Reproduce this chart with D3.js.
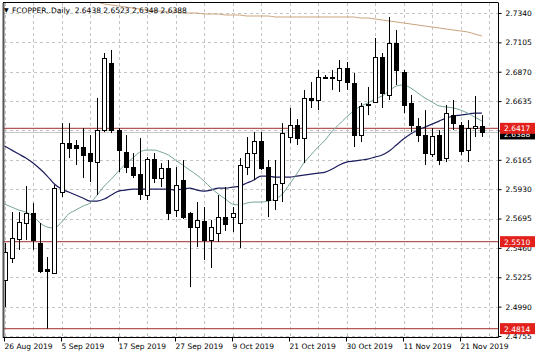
<!DOCTYPE html>
<html><head><meta charset="utf-8">
<script src="https://cdn.jsdelivr.net/npm/d3@7"></script>
<style>
html,body{margin:0;padding:0;background:#fff;}
svg{display:block;font-family:"DejaVu Sans",sans-serif;}
</style></head><body>
<svg id="c" width="536" height="358"></svg>
<script>
// ---- data ----
const barIndex = d3.range(68);
const open  = [2.5203,2.5379,2.5532,2.5659,2.5739,2.5499,2.5291,2.5259,2.5907,2.6299,2.6283,2.6267,2.6219,2.6147,2.6403,2.6940,2.6403,2.6227,2.6107,2.6051,2.5883,2.6171,2.6019,2.6099,2.5763,2.6003,2.5739,2.5627,2.5675,2.5524,2.5579,2.5707,2.5707,2.5659,2.6107,2.6219,2.6315,2.6107,2.5843,2.5979,2.6347,2.6443,2.6339,2.6660,2.6644,2.6828,2.6820,2.6804,2.6900,2.6780,2.6363,2.6604,2.6628,2.6988,2.6684,2.7100,2.6868,2.6620,2.6435,2.6363,2.6211,2.6363,2.6179,2.6523,2.6443,2.6243,2.6419,2.6438];
const high  = [2.5500,2.5747,2.5747,2.5955,2.5819,2.5659,2.5387,2.5963,2.6459,2.6459,2.6323,2.6419,2.6363,2.6660,2.7020,2.7044,2.6419,2.6363,2.6219,2.6339,2.6187,2.6219,2.6139,2.6163,2.6107,2.6163,2.5747,2.5827,2.5787,2.5683,2.5883,2.5947,2.5787,2.6179,2.6347,2.6387,2.6387,2.6163,2.6163,2.6459,2.6580,2.6491,2.6724,2.6788,2.6884,2.6844,2.6884,2.6964,2.6948,2.6860,2.6620,2.6748,2.7140,2.7020,2.7308,2.7204,2.6884,2.6684,2.6499,2.6563,2.6419,2.6403,2.6604,2.6644,2.6467,2.6483,2.6676,2.6523];
const low   = [2.4986,2.5339,2.5444,2.5524,2.5444,2.5259,2.4814,2.5251,2.5867,2.6179,2.6123,2.6019,2.5987,2.5883,2.6387,2.6379,2.6067,2.6059,2.6019,2.5843,2.5843,2.5979,2.5947,2.5683,2.5707,2.5691,2.5146,2.5467,2.5363,2.5299,2.5508,2.5596,2.5587,2.5459,2.6043,2.6003,2.6083,2.5707,2.5763,2.5827,2.6299,2.6283,2.6139,2.6580,2.6563,2.6812,2.6724,2.6708,2.6724,2.6267,2.6307,2.6523,2.6620,2.6580,2.6644,2.6764,2.6539,2.6387,2.6307,2.6123,2.6187,2.6123,2.6147,2.6403,2.6203,2.6147,2.6347,2.6348];
const close = [2.5427,2.5539,2.5667,2.5739,2.5524,2.5275,2.5275,2.5939,2.6299,2.6259,2.6259,2.6203,2.6155,2.6403,2.6980,2.6403,2.6243,2.6107,2.6043,2.5891,2.6171,2.6019,2.6099,2.5739,2.5963,2.5707,2.5627,2.5683,2.5524,2.5627,2.5707,2.5651,2.5739,2.6123,2.6219,2.6315,2.6099,2.5843,2.5971,2.6379,2.6443,2.6339,2.6660,2.6644,2.6828,2.6820,2.6828,2.6900,2.6788,2.6363,2.6596,2.6612,2.6988,2.6700,2.7100,2.6884,2.6604,2.6443,2.6363,2.6219,2.6355,2.6163,2.6539,2.6459,2.6235,2.6419,2.6435,2.6388];
const maFast = [2.5811,2.5787,2.5763,2.5747,2.5715,2.5659,2.5627,2.5619,2.5667,2.5731,2.5763,2.5795,2.5819,2.5883,2.5955,2.6011,2.6075,2.6131,2.6179,2.6227,2.6243,2.6243,2.6227,2.6203,2.6163,2.6123,2.6083,2.6043,2.5995,2.5939,2.5891,2.5851,2.5811,2.5803,2.5819,2.5827,2.5827,2.5835,2.5851,2.5891,2.5971,2.6051,2.6139,2.6203,2.6267,2.6323,2.6395,2.6451,2.6507,2.6555,2.6596,2.6620,2.6652,2.6676,2.6716,2.6756,2.6764,2.6740,2.6700,2.6660,2.6628,2.6596,2.6588,2.6580,2.6563,2.6539,2.6507,2.6475];
const maMid = [2.6275,2.6243,2.6211,2.6179,2.6139,2.6091,2.6035,2.5971,2.5931,2.5907,2.5883,2.5859,2.5835,2.5835,2.5851,2.5883,2.5915,2.5923,2.5931,2.5931,2.5931,2.5931,2.5931,2.5931,2.5923,2.5931,2.5939,2.5923,2.5915,2.5923,2.5939,2.5939,2.5947,2.5955,2.5979,2.6003,2.6035,2.6035,2.6027,2.6027,2.6027,2.6035,2.6043,2.6051,2.6059,2.6067,2.6091,2.6123,2.6147,2.6155,2.6163,2.6171,2.6187,2.6203,2.6235,2.6283,2.6331,2.6371,2.6403,2.6427,2.6451,2.6475,2.6499,2.6515,2.6523,2.6531,2.6539,2.6539];
const maSlow = [null,null,null,null,null,null,null,null,2.7508,2.7484,2.7460,2.7444,2.7444,2.7428,2.7412,2.7404,2.7396,2.7388,2.7380,2.7372,2.7364,2.7356,2.7356,2.7348,2.7348,2.7340,2.7340,2.7340,2.7332,2.7332,2.7332,2.7324,2.7324,2.7324,2.7316,2.7316,2.7316,2.7316,2.7308,2.7308,2.7308,2.7308,2.7308,2.7308,2.7308,2.7308,2.7308,2.7308,2.7308,2.7308,2.7300,2.7300,2.7292,2.7284,2.7276,2.7268,2.7260,2.7252,2.7244,2.7236,2.7228,2.7220,2.7212,2.7204,2.7196,2.7188,2.7172,2.7156];
const levels = [2.6417, 2.5510, 2.4814];
const bid = 2.6388;
const priceTicks = [2.7340,2.7105,2.6870,2.6635,2.6400,2.6165,2.5930,2.5695,2.5460,2.5225,2.4990,2.4755];
const hiddenTick = 2.6400; // label covered by the price boxes in the original
const dateTickIdx = [0,8,16,24,32,40,48,56,64];
const dateTickLabels = ["26 Aug 2019","5 Sep 2019","17 Sep 2019","27 Sep 2019","9 Oct 2019","21 Oct 2019","30 Oct 2019","11 Nov 2019","21 Nov 2019"];
const header = "FCOPPER..Daily  2.6438 2.6523 2.6348 2.6388";

// ---- drawing ----
const svg = d3.select('#c');
const L = 4, R = 498, T = 3, B = 337;
const x = d3.scaleLinear().domain([0, 68]).range([4.5, 489]);
const y = d3.scaleLinear().domain([2.4755, 2.7340]).range([336, 13]);
const px = v => Math.round(v) + 0.5;

svg.append('rect').attr('width',536).attr('height',358).attr('fill','#fff');
svg.append('clipPath').attr('id','clip').append('rect').attr('x',L).attr('y',T).attr('width',R-L).attr('height',B-T);
const g = svg.append('g').attr('clip-path','url(#clip)');

// grid
g.selectAll('line.hg').data(priceTicks).join('line')
  .attr('x1',L).attr('x2',R).attr('y1',d=>px(y(d))).attr('y2',d=>px(y(d)))
  .attr('stroke','#c4c4c4').attr('stroke-dasharray','3,3');
g.selectAll('line.vg').data(d3.range(0,69,4)).join('line')
  .attr('x1',d=>px(x(d))).attr('x2',d=>px(x(d))).attr('y1',T).attr('y2',B)
  .attr('stroke','#c4c4c4').attr('stroke-dasharray','3,3');

// bid line and levels
g.append('line').attr('x1',L).attr('x2',R).attr('y1',px(y(bid))).attr('y2',px(y(bid))).attr('stroke','#c8c8c8');
g.selectAll('line.lv').data(levels).join('line')
  .attr('x1',L).attr('x2',R).attr('y1',d=>y(d)).attr('y2',d=>y(d))
  .attr('stroke','#b35757').attr('stroke-width',1.3);

// moving averages
const line = d3.line().defined(d=>d!=null).x((d,i)=>x(i)).y(d=>y(d)).curve(d3.curveMonotoneX);
g.append('path').attr('d',line(maSlow)).attr('fill','none').attr('stroke','#c9a47c').attr('stroke-width',1);
g.append('path').attr('d',line(maMid)).attr('fill','none').attr('stroke','#1c1d5c').attr('stroke-width',1.2);
g.append('path').attr('d',line(maFast)).attr('fill','none').attr('stroke','#74a29a').attr('stroke-width',1);

// candles
const cg = g.append('g');
barIndex.forEach(i => {
  const cx = Math.round(x(i));
  cg.append('line').attr('x1',cx+0.5).attr('x2',cx+0.5)
    .attr('y1',y(high[i])).attr('y2',y(low[i])).attr('stroke','#000');
  const bull = close[i] >= open[i];
  const top = Math.round(y(Math.max(open[i],close[i])));
  const bot = Math.round(y(Math.min(open[i],close[i])));
  const h = Math.max(1, bot-top);
  cg.append('rect').attr('x',cx-2+0.5).attr('y',top+0.5).attr('width',4).attr('height',h)
    .attr('fill', bull ? '#fff' : '#000').attr('stroke','#000');
});

// frame
svg.append('line').attr('x1',3.5).attr('x2',3.5).attr('y1',T).attr('y2',B+1).attr('stroke','#555').attr('stroke-width',2);
svg.append('line').attr('x1',R+0.5).attr('x2',R+0.5).attr('y1',T).attr('y2',B+0.5).attr('stroke','#000');
svg.append('line').attr('x1',3).attr('x2',R+0.5).attr('y1',B+0.5).attr('y2',B+0.5).attr('stroke','#000');
svg.append('line').attr('x1',3).attr('x2',R+0.5).attr('y1',T-0.5).attr('y2',T-0.5).attr('stroke','#000');

// price axis
const ya = svg.append('g').attr('transform',`translate(${R+0.5},0)`)
  .call(d3.axisRight(y).tickValues(priceTicks)
    .tickFormat(d => d === hiddenTick ? '' : d3.format('.4f')(d))
    .tickSizeInner(3).tickSizeOuter(0).tickPadding(4));
ya.select('.domain').remove();
ya.selectAll('text').attr('font-size',7.5).attr('font-family','DejaVu Sans').attr('fill','#000');
ya.selectAll('line').attr('stroke','#000');

// date axis
const xa = svg.append('g').attr('transform',`translate(0,${B+0.5})`)
  .call(d3.axisBottom(x).tickValues(dateTickIdx).tickFormat((d,i)=>dateTickLabels[i]).tickSizeInner(4).tickSizeOuter(0).tickPadding(2));
xa.select('.domain').remove();
xa.selectAll('.tick line').attr('transform','translate(-0.5,0)');
xa.selectAll('text').attr('font-size',7.5).attr('font-family','DejaVu Sans').attr('fill','#000').attr('text-anchor','start').attr('x',-0.5);

// price boxes
function box(v, fill, dy){
  const yy = y(v) + (dy||0);
  svg.append('rect').attr('x',R+2).attr('y',yy-5.5).attr('width',35).attr('height',11).attr('fill',fill);
  svg.append('text').attr('x',R+6).attr('y',yy+3).attr('font-size',7.5).attr('fill','#fff').text(d3.format('.4f')(v));
}
box(bid,'#000',2);
levels.forEach(v=>box(v,'#e3211c'));

// header
svg.append('text').attr('x',4).attr('y',12).attr('font-size',6).attr('fill','#000').text('▼');
svg.append('text').attr('x',12).attr('y',12.5).attr('font-size',7.5).attr('fill','#000').attr('xml:space','preserve').text(header);
</script>
</body></html>
